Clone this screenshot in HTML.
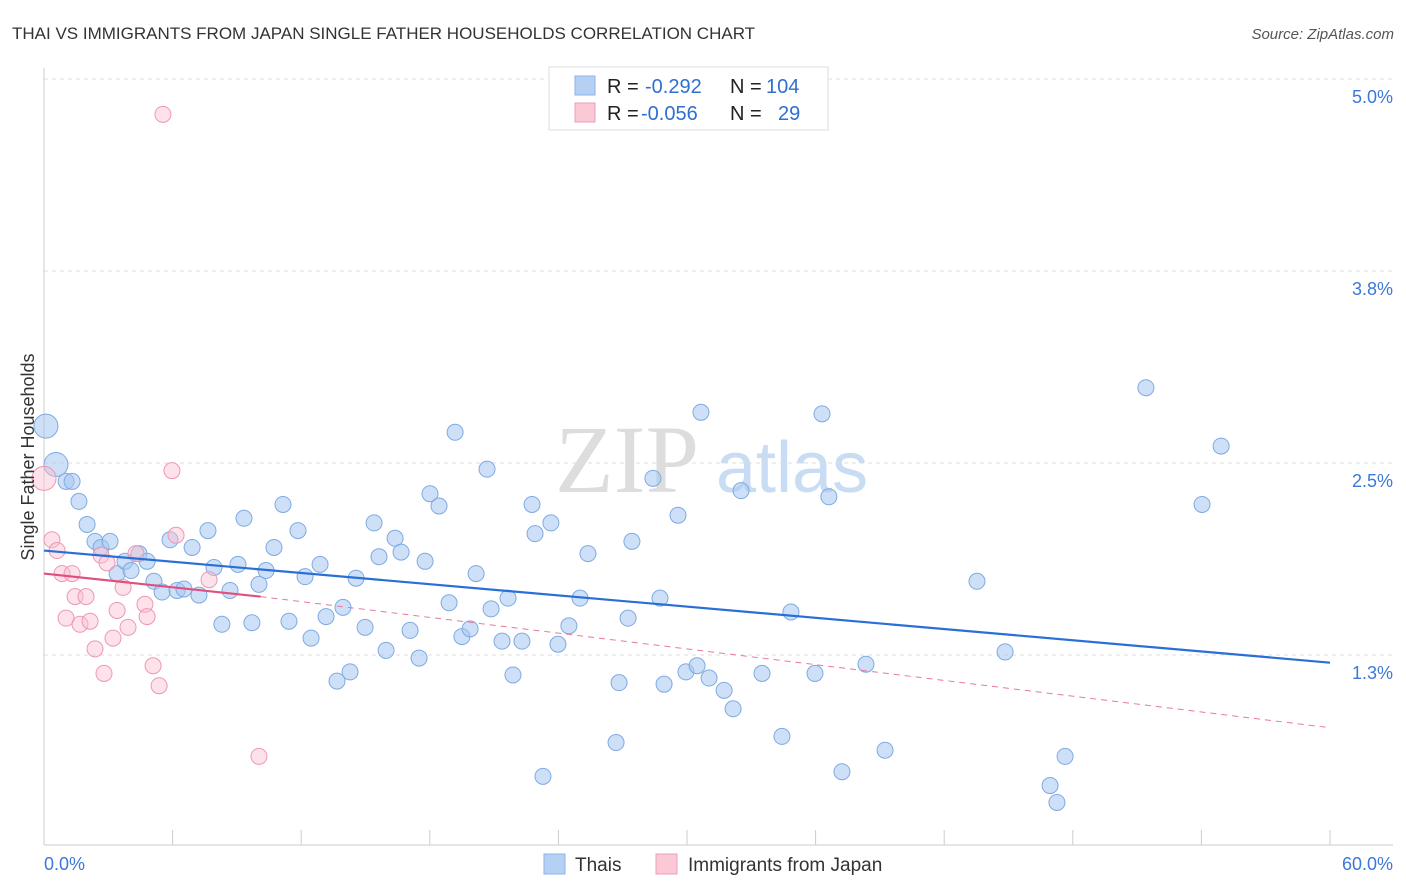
<!DOCTYPE html>
<html><head><meta charset="utf-8"><style>
body{margin:0;background:#fff;font-family:"Liberation Sans",sans-serif;}
#wrap{position:relative;width:1406px;height:892px;overflow:hidden;}
</style></head><body>
<div id="wrap">
<svg id="svg" width="1406" height="892" xmlns="http://www.w3.org/2000/svg">
<text x="12" y="39" font-size="17" fill="#333">THAI VS IMMIGRANTS FROM JAPAN SINGLE FATHER HOUSEHOLDS CORRELATION CHART</text>
<text x="1394" y="39" font-size="15" fill="#555" text-anchor="end" font-style="italic">Source: ZipAtlas.com</text>
<text x="555" y="492" font-size="96" fill="#ddd" font-family="Liberation Serif,serif">ZIP</text>
<text x="716" y="492" font-size="72" fill="#c8dcf4">atlas</text>
<g id="grid"></g><g id="axes"></g><g id="marks"></g>
<text transform="translate(34,457) rotate(-90)" font-size="18" fill="#333" text-anchor="middle">Single Father Households</text>
<g>
<rect x="549" y="67" width="279" height="63" fill="#fff" stroke="#ddd"/>
<rect x="575" y="76" width="20" height="19" fill="#b5d0f3" stroke="#8ab4e8"/>
<rect x="575" y="103" width="20" height="19" fill="#fbc8d6" stroke="#ee9fb8"/>
<text x="607" y="93" font-size="20" fill="#222">R = </text><text x="645" y="93" font-size="20" fill="#2f6fd0">-0.292</text>
<text x="730" y="93" font-size="20" fill="#222">N = </text><text x="766" y="93" font-size="20" fill="#2f6fd0">104</text>
<text x="607" y="120" font-size="20" fill="#222">R = </text><text x="641" y="120" font-size="20" fill="#2f6fd0">-0.056</text>
<text x="730" y="120" font-size="20" fill="#222">N = </text><text x="778" y="120" font-size="20" fill="#2f6fd0">29</text>
</g>
<g>
<rect x="544" y="854" width="21" height="20" fill="#b5d0f3" stroke="#8ab4e8"/>
<text x="575" y="871" font-size="19" fill="#333">Thais</text>
<rect x="656" y="854" width="21" height="20" fill="#fbc8d6" stroke="#ee9fb8"/>
<text x="688" y="871" font-size="19" fill="#333">Immigrants from Japan</text>
</g>
</svg></div>
<script>
const yTicks=[5.0,3.75,2.5,1.25];
const yTickLabels=["5.0%","3.8%","2.5%","1.3%"];
const xTicks=[0,6,12,18,24,30,36,42,48,54,60];
const thaisX=[0.09,0.56,1.03,1.31,1.63,2.01,2.38,2.66,3.08,3.41,3.78,4.06,4.43,4.81,5.13,5.51,6.21,6.53,5.88,6.91,7.23,7.65,7.93,8.30,8.68,9.05,9.33,9.70,10.03,10.36,10.73,11.15,11.43,11.85,12.18,12.46,12.88,13.16,13.67,13.95,14.28,14.56,14.98,15.40,15.63,15.96,16.38,16.66,17.08,17.50,17.78,18.01,18.43,18.90,19.18,19.50,19.88,20.16,20.67,20.86,21.37,21.65,21.88,22.30,22.77,22.91,23.28,23.65,23.98,24.49,25.01,25.38,26.69,26.83,27.25,27.43,28.41,28.74,28.93,29.58,29.95,30.47,30.65,31.03,31.73,32.15,32.52,33.50,34.43,34.85,35.97,36.30,36.62,37.23,38.35,39.24,43.53,44.84,46.94,47.26,47.64,51.41,54.03,54.92];
const thaisY=[2.74,2.49,2.38,2.38,2.25,2.10,1.99,1.95,1.99,1.78,1.86,1.80,1.91,1.86,1.73,1.66,1.67,1.68,2.00,1.95,1.64,2.06,1.82,1.45,1.67,1.84,2.14,1.46,1.71,1.80,1.95,2.23,1.47,2.06,1.76,1.36,1.84,1.50,1.08,1.56,1.14,1.75,1.43,2.11,1.89,1.28,2.01,1.92,1.41,1.23,1.86,2.30,2.22,1.59,2.70,1.37,1.42,1.78,2.46,1.55,1.34,1.62,1.12,1.34,2.23,2.04,0.46,2.11,1.32,1.44,1.62,1.91,0.68,1.07,1.49,1.99,2.40,1.62,1.06,2.16,1.14,1.18,2.83,1.10,1.02,0.90,2.32,1.13,0.72,1.53,1.13,2.82,2.28,0.49,1.19,0.63,1.73,1.27,0.40,0.29,0.59,2.99,2.23,2.61];
const japanX=[0,0.37,0.61,0.84,1.03,1.31,1.45,1.68,1.96,2.15,2.38,2.66,2.80,2.94,3.22,3.41,3.69,3.92,4.29,4.71,4.81,5.09,5.37,5.55,5.97,6.16,7.70,10.03];
const japanY=[2.40,2.00,1.93,1.78,1.49,1.78,1.63,1.45,1.63,1.47,1.29,1.90,1.13,1.85,1.36,1.54,1.69,1.43,1.91,1.58,1.50,1.18,1.05,4.77,2.45,2.03,1.74,0.59];
const thaisLine=[[0,1.93],[60,1.20]];
const japanSolid=[[0,1.78],[10.1,1.63]];
const japanDash=[[10.1,1.63],[59.8,0.78]];
const sx=v=>44+v/60*1286;
const sy=v=>79+(5-v)*153.6;
const NS="http://www.w3.org/2000/svg";
function mk(tag,attrs,parent){const e=document.createElementNS(NS,tag);for(const k in attrs)e.setAttribute(k,attrs[k]);document.getElementById(parent).appendChild(e);return e;}
yTicks.forEach((t,i)=>{
 const g=mk('line',{x1:44,x2:1393,y1:sy(t),y2:sy(t),stroke:'#ddd','stroke-dasharray':'4,4'},'grid');
 
 
 const l=mk('text',{x:1393,y:sy(t)+24,'font-size':18,fill:'#3b78d8','text-anchor':'end'},'axes');
 l.textContent=yTickLabels[i];
 
 
});
const ax=mk('line',{x1:44,x2:1393,y1:845,y2:845,stroke:'#ccc'},'axes');


const ay=mk('line',{x1:44,x2:44,y1:68,y2:845,stroke:'#ccc'},'axes');


xTicks.forEach(t=>{
 const k=mk('line',{x1:sx(t),x2:sx(t),y1:830,y2:845,stroke:'#ccc'},'axes');
 
 
});
const x0=mk('text',{x:44,y:870,'font-size':18,fill:'#3b78d8'},'axes');x0.textContent='0.0%';


const x1=mk('text',{x:1393,y:870,'font-size':18,fill:'#3b78d8','text-anchor':'end'},'axes');x1.textContent='60.0%';


thaisX.forEach((x,i)=>{
 const c=mk('circle',{cx:sx(x),cy:sy(thaisY[i]),r:i<2?12:8,fill:'rgba(165,198,240,0.55)',stroke:'#7eaae2','stroke-width':1},'marks');
 
 
});
japanX.forEach((x,i)=>{
 const c=mk('circle',{cx:sx(x),cy:sy(japanY[i]),r:i<1?12:8,fill:'rgba(250,190,208,0.45)',stroke:'#ec98b4','stroke-width':1},'marks');
 
 
});
const bl=mk('line',{x1:sx(thaisLine[0][0]),y1:sy(thaisLine[0][1]),x2:sx(thaisLine[1][0]),y2:sy(thaisLine[1][1]),stroke:'#2a6fd6','stroke-width':2.2},'marks');


const pd=mk('line',{x1:sx(japanDash[0][0]),y1:sy(japanDash[0][1]),x2:sx(japanDash[1][0]),y2:sy(japanDash[1][1]),stroke:'#e8799d','stroke-width':1,'stroke-dasharray':'6,5'},'marks');


const ps=mk('line',{x1:sx(japanSolid[0][0]),y1:sy(japanSolid[0][1]),x2:sx(japanSolid[1][0]),y2:sy(japanSolid[1][1]),stroke:'#e0507f','stroke-width':2.2},'marks');


</script>
</body></html>
